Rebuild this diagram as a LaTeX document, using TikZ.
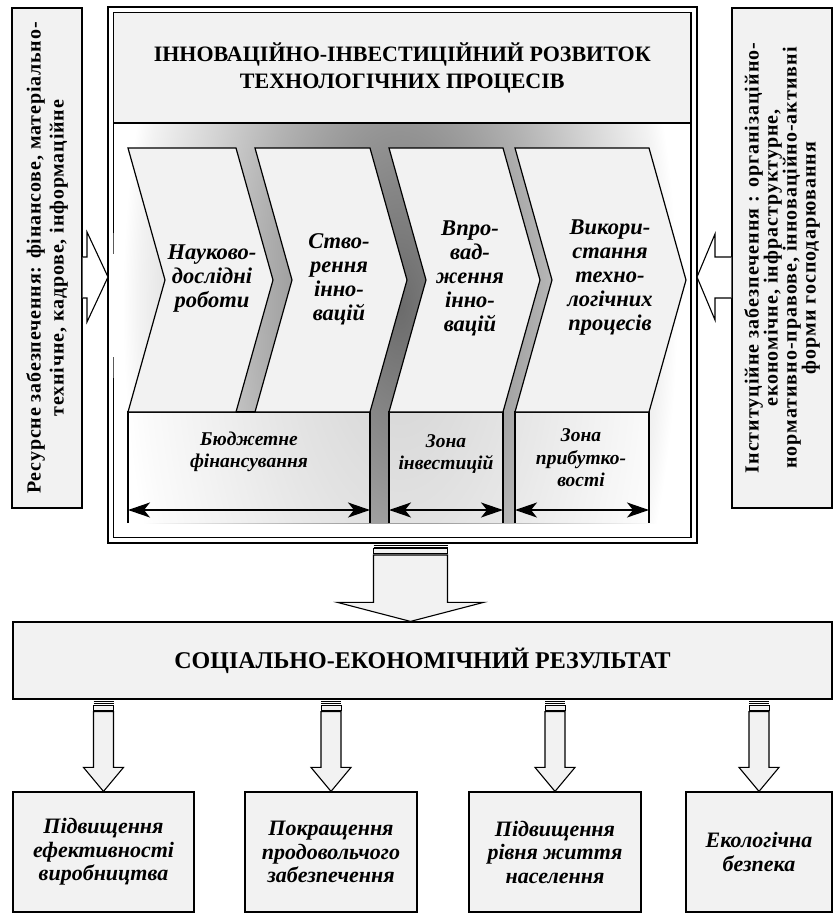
\documentclass[tikz,border=0pt]{standalone}
\usepackage{fontspec}
\setmainfont{Liberation Serif}
\usetikzlibrary{arrows.meta,calc}

\definecolor{boxgray}{RGB}{242,242,242}
\pgfdeclareradialshading{gapfade}{\pgfpoint{0bp}{0bp}}{%
  color(0bp)=(black!58); color(12bp)=(black!45); color(25bp)=(black!30);
  color(35bp)=(black!17); color(45bp)=(black!5); color(48bp)=(white); color(50bp)=(white)}

% striped block arrow from node #1 down to node #2
% #3 x shift, #4 stem half width, #5 head half width, #6 head length
\newcommand{\blockarrow}[6]{%
  \coordinate (ba top) at ($(#2.north |- #1.south)+(#3,0)$);
  \coordinate (ba tip) at ($(#2.north)+(#3,0)$);
  \foreach \d in {0,2,4}
    \draw[line width=.7pt] ($(ba top)+(-#4,\d)$) -- ++(2*#4,0);
  \draw[line width=.9pt, fill=boxgray] ($(ba top)+(-#4,5.5)$) rectangle ++(2*#4,5);
  \draw[line width=1.1pt, fill=boxgray] ($(ba top)+(-#4,12)$) -- ($(ba tip)+(-#4,-#6)$)
    -- ($(ba tip)+(-#5,-#6)$) -- (ba tip) -- ($(ba tip)+(#5,-#6)$)
    -- ($(ba tip)+(#4,-#6)$) -- ($(ba top)+(#4,12)$) -- cycle;
}

\tikzset{
  box/.style={draw, line width=1.2pt, fill=boxgray, inner sep=2pt, align=center},
  sidebox/.style={box, rotate=90, minimum width=500pt, font=\fontsize{20}{23}\selectfont\bfseries},
  outcome/.style={box, minimum height=120pt, font=\fontsize{22}{23.5}\selectfont\bfseries\itshape},
  chevron/.style={draw, line width=1.2pt, fill=boxgray},
  chevtext/.style={align=center, font=\fontsize{22.5}{24}\selectfont\bfseries\itshape},
  zone/.style={minimum height=111pt, inner sep=0pt, outer sep=0pt, fill=white, fill opacity=.7},
  zonetext/.style={align=center, font=\fontsize{19.5}{22.5}\selectfont\bfseries\itshape},
  span/.style={{Stealth[length=22pt,width=15pt,inset=6pt]}-{Stealth[length=22pt,width=15pt,inset=6pt]}, line width=1.6pt},
  sidearrow/.style={draw, line width=1.1pt, fill=white},
}

\begin{document}
\begin{tikzpicture}[x=1pt, y=-1pt]
\useasboundingbox (0,0) rectangle (834,914);

% main frame
\node[minimum width=589pt, minimum height=536pt, inner sep=0pt, outer sep=0pt] (frame) at (402.5,275) {};
\draw[line width=2.2pt] (frame.north west) rectangle (frame.south east);
\draw[line width=1.1pt] ($(frame.north west)+(5.5,5.5)$) rectangle ($(frame.south east)+(-6,-5.5)$);

\begin{scope}
  \clip (113.5,123) rectangle (691,523);
  \begin{scope}[shift={(400,305)}, xscale=5.76, yscale=12]
    \pgflowlevelsynccm
    \pgfuseshading{gapfade}
  \end{scope}
\end{scope}

\node[box, minimum width=577.5pt, minimum height=110.5pt, line width=1.1pt,
  font=\fontsize{22}{27}\selectfont\bfseries] (title) at (402.25,67.75)
  {ІННОВАЦІЙНО-ІНВЕСТИЦІЙНИЙ РОЗВИТОК\\ТЕХНОЛОГІЧНИХ ПРОЦЕСІВ};

% zones under the chevrons
\foreach \name/\l/\r in {zone1/128/370, zone2/389/503, zone3/515/649} {
  \node[zone, minimum width=\r-\l] (\name) at ({(\l+\r)/2},467.5) {};
  \draw[line width=1.2pt] (\name.south west) |- (\name.north east) -- (\name.south east);
  \draw[span] ($(\name.south west)+(0,-13)$) -- ($(\name.south east)+(0,-13)$);
}

% chevrons
\foreach \l/\r in {128/236, 255/370, 389/503, 515/649}
  \draw[chevron] (\l,148) -- (\r,148) -- (\r+37,280) -- (\r,412) -- (\l,412) -- (\l+37,280) -- cycle;

\node[chevtext] (research) at (212,279) {Науково-\\дослідні\\роботи};
\node[chevtext] (creation) at (339,279) {Ство-\\рення\\інно-\\вацій};
\node[chevtext] (adoption) at (470,278) {Впро-\\вад-\\ження\\інно-\\вацій};
\node[chevtext] (usage) at (610,278) {Викори-\\стання\\техно-\\логічних\\процесів};

\node[zonetext] (budget) at (249,452) {Бюджетне\\фінансування};
\node[zonetext] (invest) at (446,454) {Зона\\інвестицій};
\node[zonetext] (profit) at (581,458) {Зона\\прибутко-\\вості};

% side boxes
\node[sidebox, minimum height=70pt, font=\fontsize{20}{23}\selectfont\bfseries\addfontfeatures{LetterSpace=4.2}] (resource) at (47,258)
  {Ресурсне забезпечення: фінансове, матеріально-\\технічне, кадрове, інформаційне};
\node[sidebox, minimum height=100pt, font=\fontsize{20}{19}\selectfont\bfseries\addfontfeatures{LetterSpace=5}] (institution) at (782,258)
  {Інституційне забезпечення : організаційно-\\економічне, інфраструктурне,\\нормативно-правове, інноваційно-активні\\форми господарювання};

\draw[sidearrow] (resource.south |- 0,257) -- (87,257) -- (87,232) -- (frame.west |- 0,277)
  -- (87,322) -- (87,298) -- (resource.south |- 0,298);
\draw[sidearrow] (institution.north |- 0,257) -- (715,257) -- (715,234) -- (frame.east |- 0,277)
  -- (715,320) -- (715,298) -- (institution.north |- 0,298);

% result and outcomes
\node[box, minimum width=819pt, minimum height=77pt, font=\fontsize{24}{26}\selectfont\bfseries] (result)
  at (422.5,660.5) {СОЦІАЛЬНО-ЕКОНОМІЧНИЙ РЕЗУЛЬТАТ};

\node[outcome, minimum width=181pt] (efficiency) at (103.5,852) {Підвищення\\ефективності\\виробництва};
\node[outcome, minimum width=172pt] (food) at (331,852) {Покращення\\продовольчого\\забезпечення};
\node[outcome, minimum width=172pt] (living) at (555,852) {Підвищення\\рівня життя\\населення};
\node[outcome, minimum width=146pt] (ecology) at (759,852) {Екологічна\\безпека};

\blockarrow{frame}{result}{-12}{37}{73}{19}
\foreach \t in {efficiency, food, living, ecology} {
  \blockarrow{result}{\t}{0}{10}{20}{24}
}

\end{tikzpicture}
\end{document}
